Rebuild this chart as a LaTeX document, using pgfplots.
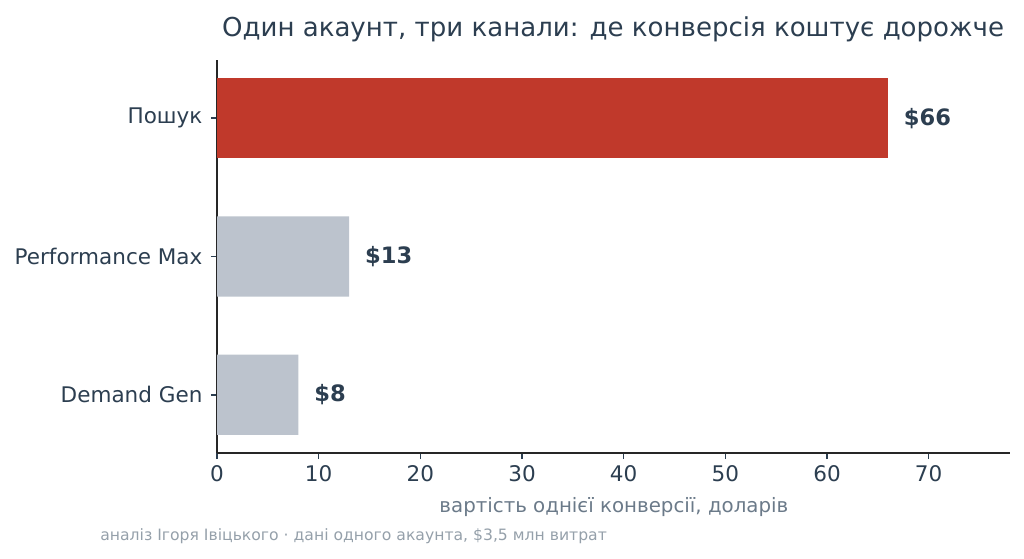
\documentclass[border=0pt]{standalone}
\usepackage{fontspec}
\setmainfont{DejaVu Sans}
\usepackage{pgfplots}
\pgfplotsset{compat=1.18}
\definecolor{txt}{HTML}{2C3E50}
\definecolor{redbar}{HTML}{C0392B}
\definecolor{graybar}{HTML}{BCC3CD}
\definecolor{labgray}{HTML}{6B7A89}
\definecolor{footgray}{HTML}{95A0AA}
\begin{document}
\begin{tikzpicture}
\path[use as bounding box] (0,0) rectangle (589.82pt,321.98pt);
\begin{axis}[
  at={(125pt,61.06pt)}, anchor=south west,
  scale only axis, width=456.77pt, height=226.37pt,
  xbar, bar shift=0pt, bar width=0.58,
  xmin=0, xmax=78, ymin=-0.42, ymax=2.42,
  axis lines*=left,
  axis line style={color=black!85, line width=0.8pt},
  xtick={0,10,...,70},
  ytick={0,1,2},
  yticklabels={Demand Gen, Performance Max, Пошук},
  tick align=outside,
  major tick length=3.5pt,
  every tick/.style={color=txt, line width=0.8pt},
  tick label style={font=\fontsize{12.4}{14}\selectfont, text=txt},
  /pgf/number format/assume math mode=true,
  xticklabel style={inner sep=0pt, yshift=-3.5pt},
  yticklabel style={inner sep=0pt, xshift=-4.7pt},
  nodes near coords={\$\pgfmathprintnumber{\pgfplotspointmeta}},
  point meta=x,
  every node near coord/.append style={font=\bfseries\fontsize{13}{15}\selectfont, text=txt, anchor=west, inner sep=0pt, xshift=9pt},
]
\addplot[fill=graybar, draw=none] coordinates {(8,0) (13,1)};
\addplot[fill=redbar, draw=none] coordinates {(66,2)};
\end{axis}
\node[anchor=base, text=txt, font=\fontsize{15}{18}\selectfont] at (353.1pt,301.2pt) {Один акаунт, три канали: де конверсія коштує дорожче};
\node[anchor=base, text=labgray, font=\fontsize{11.4}{13}\selectfont] at (353.6pt,26.8pt) {вартість однієї конверсії, доларів};
\node[anchor=base west, inner sep=0pt, text=footgray, font=\fontsize{9}{11}\selectfont] at (57.6pt,10.9pt) {аналіз Ігоря Івіцького · дані одного акаунта, \$3,5 млн витрат};
\end{tikzpicture}
\end{document}
